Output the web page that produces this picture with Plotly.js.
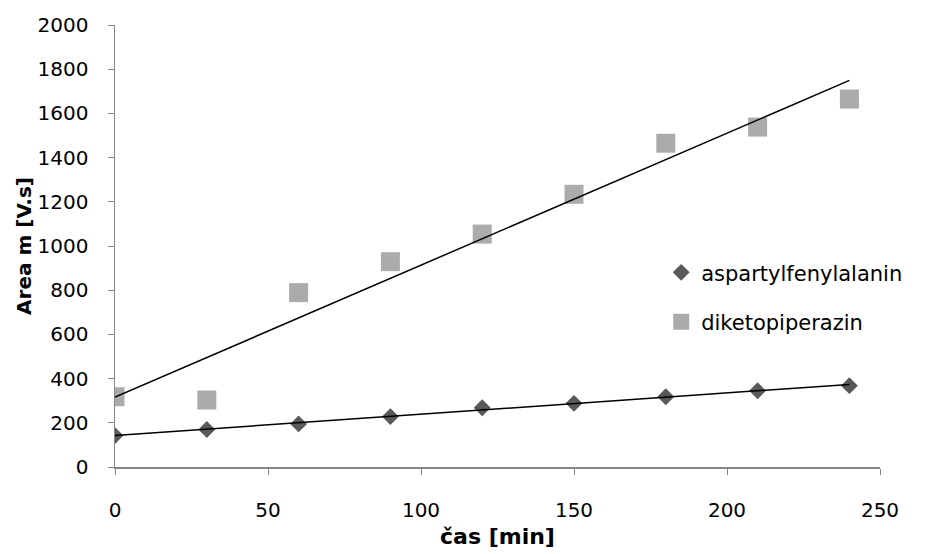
<!DOCTYPE html>
<html>
<head>
<meta charset="utf-8">
<script src="https://cdn.plot.ly/plotly-3.0.1.min.js"></script>
<style>html,body{margin:0;padding:0;background:#fff;}#chart{width:935px;height:554px;}</style>
</head>
<body>
<div id="chart"></div>
<script>
const timeMin = [0, 30, 60, 90, 120, 150, 180, 210, 240];
const aspartylfenylalanin = [142, 170, 195, 228, 268, 288, 318, 345, 368];
const diketopiperazin = [318, 303, 789, 929, 1054, 1234, 1465, 1538, 1665];
const seriesNames = ["aspartylfenylalanin", "diketopiperazin"];
const xTickVals = [0, 50, 100, 150, 200, 250];
const yTickVals = [0, 200, 400, 600, 800, 1000, 1200, 1400, 1600, 1800, 2000];

function linFit(xs, ys) {
  const n = xs.length;
  const mx = xs.reduce((a, b) => a + b, 0) / n;
  const my = ys.reduce((a, b) => a + b, 0) / n;
  let sxy = 0, sxx = 0;
  for (let i = 0; i < n; i++) { sxy += (xs[i] - mx) * (ys[i] - my); sxx += (xs[i] - mx) ** 2; }
  const b = sxy / sxx, a = my - b * mx;
  const x0 = Math.min(...xs), x1 = Math.max(...xs);
  return { x: [x0, x1], y: [a + b * x0, a + b * x1] };
}

const FONT = "DejaVu Sans, sans-serif";
const fitA = linFit(timeMin, aspartylfenylalanin);
const fitD = linFit(timeMin, diketopiperazin);

const traces = [
  { x: timeMin, y: aspartylfenylalanin, name: seriesNames[0], mode: "markers", legendgroup: "a",
    marker: { symbol: "diamond", size: 13, color: "#595959" } },
  { x: timeMin, y: diketopiperazin, name: seriesNames[1], mode: "markers", legendgroup: "d",
    marker: { symbol: "square", size: 19, color: "#ababab" } },
  { x: fitD.x, y: fitD.y, mode: "lines", line: { color: "#000", width: 1.5 }, showlegend: false, hoverinfo: "skip" },
  { x: fitA.x, y: fitA.y, mode: "lines", line: { color: "#000", width: 1.5 }, showlegend: false, hoverinfo: "skip" }
];

const layout = {
  width: 935, height: 554,
  margin: { l: 115, r: 55, t: 25, b: 87 },
  paper_bgcolor: "#fff", plot_bgcolor: "#fff",
  font: { family: FONT, size: 20, color: "#000" },
  showlegend: true,
  legend: { x: 0.714, y: 0.486, xanchor: "left", yanchor: "top", bgcolor: "rgba(0,0,0,0)",
            font: { family: FONT, size: 21, color: "#000" }, tracegroupgap: 19, traceorder: "grouped" },
  xaxis: {
    range: [0, 250], tickvals: xTickVals, ticks: "outside", ticklen: 6, tickcolor: "#868686",
    showline: true, linecolor: "#868686", linewidth: 1.5, showgrid: false, zeroline: false,
    ticklabelstandoff: 18,
    title: { text: "<b>čas [min]</b>", font: { family: FONT, size: 22 } }
  },
  yaxis: {
    range: [0, 2000], tickvals: yTickVals, ticks: "outside", ticklen: 6, tickcolor: "#868686",
    showline: true, linecolor: "#868686", linewidth: 1.5, showgrid: false, zeroline: false,
    ticklabelstandoff: 15,
    title: { text: "<b>Area m [V.s]</b>", font: { family: FONT, size: 20 } }
  }
};

Plotly.newPlot("chart", traces, layout, { displayModeBar: false, staticPlot: true });
</script>
</body>
</html>
